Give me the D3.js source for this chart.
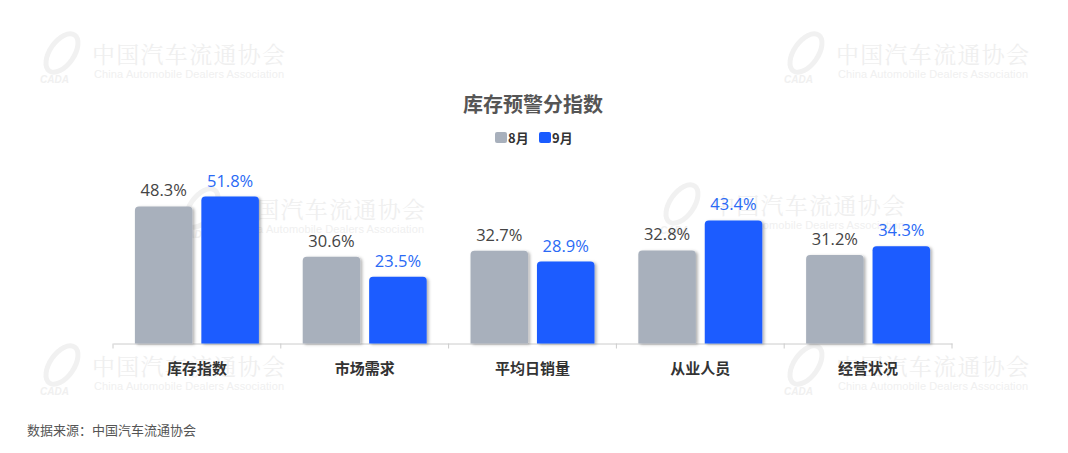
<!DOCTYPE html>
<html><head><meta charset="utf-8">
<script src="https://cdn.jsdelivr.net/npm/d3@7"></script>
<style>html,body{margin:0;padding:0;background:#fff;}svg{display:block;}</style>
</head><body><svg id="c" width="1068" height="453"></svg>
<script>
const categories = ["库存指数","市场需求","平均日销量","从业人员","经营状况"];
const seriesNames = ["8月","9月"];
const aug = [48.3, 30.6, 32.7, 32.8, 31.2];
const sep = [51.8, 23.5, 28.9, 43.4, 34.3];
const title = "库存预警分指数";
const source = "数据来源：中国汽车流通协会";

const svg = d3.select("#c");
const left = 113, right = 952, baseY = 343.5;
const cjk = "'Noto Sans CJK SC','Noto Sans',sans-serif";
const num = "'Open Sans','Noto Sans',sans-serif";

const defs = svg.append("defs");
const f = defs.append("filter").attr("id","sh").attr("x","-20%").attr("y","-20%").attr("width","150%").attr("height","150%");
f.append("feDropShadow").attr("dx",2).attr("dy",1).attr("stdDeviation",1.6).attr("flood-color","#000").attr("flood-opacity",0.3);

// watermarks
const wm = [[92,63],[836,63],[232,218],[712,214],[92,375],[836,375]];
const wg = svg.append("g");
wm.forEach(([x,y])=>{
  wg.append("text").attr("x",x).attr("y",y).attr("font-family","'Noto Serif CJK SC','Noto Sans CJK SC',serif")
    .attr("font-size",23).attr("fill","#efefef").attr("textLength",193).text("中国汽车流通协会");
  wg.append("text").attr("x",x+2).attr("y",y+15).attr("font-family","'Liberation Sans',sans-serif")
    .attr("font-size",11).attr("fill","#f0f0f0").attr("textLength",190).text("China Automobile Dealers Association");
  wg.append("ellipse").attr("cx",x-30).attr("cy",y-10).attr("rx",12).attr("ry",22)
    .attr("transform",`rotate(35,${x-30},${y-10})`).attr("fill","none").attr("stroke","#f1f1f1").attr("stroke-width",5);
  wg.append("text").attr("x",x-52).attr("y",y+20).attr("font-family","'Liberation Sans',sans-serif").attr("font-style","italic")
    .attr("font-weight","bold").attr("font-size",10).attr("fill","#f0f0f0").text("CADA");
});

// title
svg.append("text").attr("x",533).attr("y",112).attr("text-anchor","middle")
  .attr("font-family",cjk).attr("font-weight","bold").attr("font-size",20).attr("fill","#555").text(title);

// legend
const colors = ["#a8b0bc","#1a5cff"];
const lx = [495, 539];
seriesNames.forEach((n,i)=>{
  svg.append("rect").attr("x",lx[i]).attr("y",132).attr("width",12).attr("height",11).attr("rx",2).attr("fill",colors[i]);
  svg.append("text").attr("x",lx[i]+13).attr("y",143).attr("font-family",cjk).attr("font-weight","bold")
    .attr("font-size",13).attr("fill","#333").text(n);
});

const x0 = d3.scaleBand().domain(categories).range([left,right]).padding(0);
const y = d3.scaleLinear().domain([0,60]).range([baseY, baseY-170.2]);
const x1 = d3.scaleBand().domain(seriesNames).range([0, x0.bandwidth()]).paddingInner(0.134).paddingOuter(0.33);

// axis
const ax = svg.append("g").attr("transform",`translate(0,${baseY})`)
  .call(d3.axisBottom(x0).tickSize(0).tickFormat(""));
ax.select(".domain").attr("stroke","#ccc");
ax.selectAll(".tick").remove();
const bounds = [left].concat(categories.map(c=>x0(c)+x0.bandwidth()));
svg.append("g").selectAll("line").data(bounds).join("line")
  .attr("x1",d=>d).attr("x2",d=>d).attr("y1",baseY).attr("y2",baseY+5).attr("stroke","#ccc");

svg.append("g").selectAll("text").data(categories).join("text")
  .attr("x",d=>x0(d)+x0.bandwidth()/2).attr("y",374).attr("text-anchor","middle")
  .attr("font-family",cjk).attr("font-weight","bold").attr("font-size",15).attr("fill","#333").text(d=>d);

const data = [aug, sep];
const labelColors = ["#444","#2a6af5"];
function barPath(x,yTop,w,h,r){
  return `M${x},${yTop+h}V${yTop+r}Q${x},${yTop} ${x+r},${yTop}H${x+w-r}Q${x+w},${yTop} ${x+w},${yTop+r}V${yTop+h}Z`;
}
seriesNames.forEach((s,si)=>{
  const g = svg.append("g");
  g.selectAll("path").data(categories).join("path")
    .attr("d",(c,i)=>{const v=data[si][i];const bx=x0(c)+x1(s);return barPath(bx,y(v),x1.bandwidth(),baseY-y(v),4);})
    .attr("fill",colors[si]).attr("filter","url(#sh)");
  g.selectAll("text").data(categories).join("text")
    .attr("x",c=>x0(c)+x1(s)+x1.bandwidth()/2)
    .attr("y",(c,i)=>y(data[si][i])-10).attr("text-anchor","middle")
    .attr("font-family",num).attr("font-size",16.5).attr("fill",labelColors[si])
    .text((c,i)=>data[si][i].toFixed(1)+"%");
});

svg.append("text").attr("x",27).attr("y",435).attr("font-family",cjk).attr("font-size",13)
  .attr("fill","#555").text(source);
</script></body></html>
